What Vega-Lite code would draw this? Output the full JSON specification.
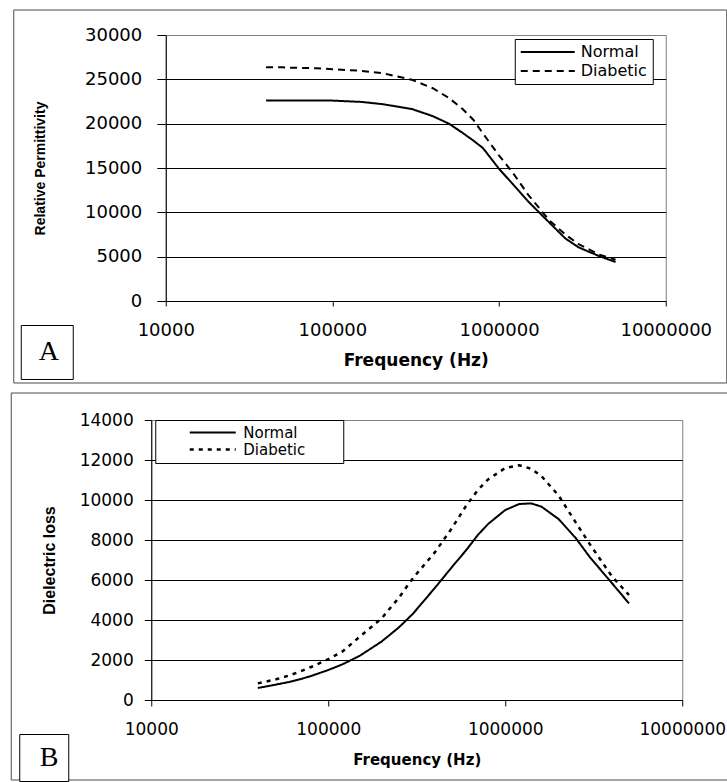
{
  "$schema": "https://vega.github.io/schema/vega-lite/v6.json",
  "padding": {"left": 10, "top": 9, "right": 0, "bottom": 0},
  "background": "white",
  "spacing": 7,
  "center": true,
  "resolve": {
    "scale": {"color": "independent", "opacity": "independent", "strokeDash": "independent", "strokeWidth": "independent"},
    "legend": {"color": "independent", "opacity": "independent", "strokeDash": "independent", "strokeWidth": "independent"}
  },
  "config": {
    "view": {"stroke": "#808080", "strokeWidth": 1},
    "axis": {"labelFont": "DejaVu Sans", "labelColor": "black", "tickColor": "black", "domainColor": "black", "titleColor": "black", "titleFontWeight": "bold", "labelFlush": false, "labelOverlap": false},
    "legend": {"labelColor": "black"}
  },
  "datasets": {
    "a": [
      {"panel": "A", "series": "Normal", "f": 40000, "v": 22600},
      {"panel": "A", "series": "Normal", "f": 50000, "v": 22600},
      {"panel": "A", "series": "Normal", "f": 60000, "v": 22600},
      {"panel": "A", "series": "Normal", "f": 80000, "v": 22600},
      {"panel": "A", "series": "Normal", "f": 100000, "v": 22600},
      {"panel": "A", "series": "Normal", "f": 150000, "v": 22450},
      {"panel": "A", "series": "Normal", "f": 200000, "v": 22200},
      {"panel": "A", "series": "Normal", "f": 300000, "v": 21650},
      {"panel": "A", "series": "Normal", "f": 400000, "v": 20850},
      {"panel": "A", "series": "Normal", "f": 500000, "v": 20000},
      {"panel": "A", "series": "Normal", "f": 600000, "v": 19000},
      {"panel": "A", "series": "Normal", "f": 700000, "v": 18100},
      {"panel": "A", "series": "Normal", "f": 800000, "v": 17250},
      {"panel": "A", "series": "Normal", "f": 1000000, "v": 14900},
      {"panel": "A", "series": "Normal", "f": 1200000, "v": 13250},
      {"panel": "A", "series": "Normal", "f": 1500000, "v": 11200},
      {"panel": "A", "series": "Normal", "f": 2000000, "v": 8850},
      {"panel": "A", "series": "Normal", "f": 2500000, "v": 7050},
      {"panel": "A", "series": "Normal", "f": 3000000, "v": 6050},
      {"panel": "A", "series": "Normal", "f": 4000000, "v": 5050},
      {"panel": "A", "series": "Normal", "f": 5000000, "v": 4400},
      {"panel": "A", "series": "Diabetic", "f": 40000, "v": 26350},
      {"panel": "A", "series": "Diabetic", "f": 50000, "v": 26350},
      {"panel": "A", "series": "Diabetic", "f": 60000, "v": 26300},
      {"panel": "A", "series": "Diabetic", "f": 80000, "v": 26250},
      {"panel": "A", "series": "Diabetic", "f": 100000, "v": 26150},
      {"panel": "A", "series": "Diabetic", "f": 150000, "v": 25950},
      {"panel": "A", "series": "Diabetic", "f": 200000, "v": 25700},
      {"panel": "A", "series": "Diabetic", "f": 300000, "v": 24950},
      {"panel": "A", "series": "Diabetic", "f": 400000, "v": 24000},
      {"panel": "A", "series": "Diabetic", "f": 500000, "v": 22900},
      {"panel": "A", "series": "Diabetic", "f": 600000, "v": 21700},
      {"panel": "A", "series": "Diabetic", "f": 700000, "v": 20450},
      {"panel": "A", "series": "Diabetic", "f": 800000, "v": 18900},
      {"panel": "A", "series": "Diabetic", "f": 1000000, "v": 16400},
      {"panel": "A", "series": "Diabetic", "f": 1200000, "v": 14550},
      {"panel": "A", "series": "Diabetic", "f": 1500000, "v": 11950},
      {"panel": "A", "series": "Diabetic", "f": 2000000, "v": 9100},
      {"panel": "A", "series": "Diabetic", "f": 2500000, "v": 7500},
      {"panel": "A", "series": "Diabetic", "f": 3000000, "v": 6400},
      {"panel": "A", "series": "Diabetic", "f": 4000000, "v": 5230},
      {"panel": "A", "series": "Diabetic", "f": 5000000, "v": 4650}
    ],
    "b": [
      {"panel": "B", "series": "Normal", "f": 40000, "v": 600},
      {"panel": "B", "series": "Normal", "f": 50000, "v": 760},
      {"panel": "B", "series": "Normal", "f": 60000, "v": 900},
      {"panel": "B", "series": "Normal", "f": 70000, "v": 1050},
      {"panel": "B", "series": "Normal", "f": 80000, "v": 1200},
      {"panel": "B", "series": "Normal", "f": 100000, "v": 1500},
      {"panel": "B", "series": "Normal", "f": 120000, "v": 1780},
      {"panel": "B", "series": "Normal", "f": 150000, "v": 2200},
      {"panel": "B", "series": "Normal", "f": 200000, "v": 2920},
      {"panel": "B", "series": "Normal", "f": 250000, "v": 3620},
      {"panel": "B", "series": "Normal", "f": 300000, "v": 4300},
      {"panel": "B", "series": "Normal", "f": 400000, "v": 5600},
      {"panel": "B", "series": "Normal", "f": 500000, "v": 6650},
      {"panel": "B", "series": "Normal", "f": 600000, "v": 7480},
      {"panel": "B", "series": "Normal", "f": 700000, "v": 8250},
      {"panel": "B", "series": "Normal", "f": 800000, "v": 8800},
      {"panel": "B", "series": "Normal", "f": 1000000, "v": 9500},
      {"panel": "B", "series": "Normal", "f": 1200000, "v": 9800},
      {"panel": "B", "series": "Normal", "f": 1400000, "v": 9830},
      {"panel": "B", "series": "Normal", "f": 1600000, "v": 9670},
      {"panel": "B", "series": "Normal", "f": 2000000, "v": 9050},
      {"panel": "B", "series": "Normal", "f": 2500000, "v": 8100},
      {"panel": "B", "series": "Normal", "f": 3000000, "v": 7150},
      {"panel": "B", "series": "Normal", "f": 4000000, "v": 5850},
      {"panel": "B", "series": "Normal", "f": 5000000, "v": 4830},
      {"panel": "B", "series": "Diabetic", "f": 40000, "v": 830},
      {"panel": "B", "series": "Diabetic", "f": 50000, "v": 1020},
      {"panel": "B", "series": "Diabetic", "f": 60000, "v": 1220},
      {"panel": "B", "series": "Diabetic", "f": 70000, "v": 1440},
      {"panel": "B", "series": "Diabetic", "f": 80000, "v": 1650},
      {"panel": "B", "series": "Diabetic", "f": 100000, "v": 2040},
      {"panel": "B", "series": "Diabetic", "f": 120000, "v": 2420},
      {"panel": "B", "series": "Diabetic", "f": 150000, "v": 3150},
      {"panel": "B", "series": "Diabetic", "f": 200000, "v": 4080},
      {"panel": "B", "series": "Diabetic", "f": 250000, "v": 5100},
      {"panel": "B", "series": "Diabetic", "f": 300000, "v": 6080},
      {"panel": "B", "series": "Diabetic", "f": 400000, "v": 7380},
      {"panel": "B", "series": "Diabetic", "f": 500000, "v": 8600},
      {"panel": "B", "series": "Diabetic", "f": 600000, "v": 9700},
      {"panel": "B", "series": "Diabetic", "f": 700000, "v": 10500},
      {"panel": "B", "series": "Diabetic", "f": 800000, "v": 11030},
      {"panel": "B", "series": "Diabetic", "f": 1000000, "v": 11600},
      {"panel": "B", "series": "Diabetic", "f": 1200000, "v": 11740},
      {"panel": "B", "series": "Diabetic", "f": 1400000, "v": 11560},
      {"panel": "B", "series": "Diabetic", "f": 1600000, "v": 11200},
      {"panel": "B", "series": "Diabetic", "f": 2000000, "v": 10230},
      {"panel": "B", "series": "Diabetic", "f": 2500000, "v": 8880},
      {"panel": "B", "series": "Diabetic", "f": 3000000, "v": 7800},
      {"panel": "B", "series": "Diabetic", "f": 4000000, "v": 6190},
      {"panel": "B", "series": "Diabetic", "f": 5000000, "v": 5250}
    ]
  },
  "vconcat": [
    {
      "width": 500,
      "height": 266,
      "data": {"name": "a"},
      "layer": [
        {
          "mark": {"type": "line", "color": "black", "strokeWidth": 2},
          "encoding": {
            "x": {
              "field": "f", "type": "quantitative",
              "scale": {"type": "log", "domain": [10000, 10000000], "nice": false},
              "axis": {"title": "Frequency (Hz)", "values": [10000, 100000, 1000000, 10000000], "format": "d", "labelFontSize": 18, "tickSize": 5, "labelPadding": 15, "titleFont": "DejaVu Sans", "titleFontSize": 17, "titlePadding": 13, "grid": false}
            },
            "y": {
              "field": "v", "type": "quantitative",
              "scale": {"domain": [0, 30000], "nice": false},
              "axis": {"title": "Relative Permittivity", "values": [0, 5000, 10000, 15000, 20000, 25000, 30000], "format": "d", "labelFontSize": 18, "tickSize": 9, "labelPadding": 15, "titleFont": "Liberation Sans", "titleFontSize": 14, "titlePadding": 37, "grid": true, "gridColor": {"condition": {"test": "datum.value == 30000", "value": "#808080"}, "value": "black"}}
            },
            "strokeDash": {
              "field": "series", "type": "nominal",
              "scale": {"domain": ["Normal", "Diabetic"], "range": [[1, 0], [7, 5]]},
              "legend": {"title": null, "orient": "none", "legendX": 349, "legendY": 4, "strokeColor": "black", "fillColor": "white", "padding": 5, "symbolType": "M-4.154,0H4.154", "symbolSize": 169, "symbolStrokeWidth": 2, "symbolStrokeColor": "black", "symbolOffset": 20, "labelOffset": 25, "labelFont": "DejaVu Sans", "labelFontSize": 16, "rowPadding": 3}
            }
          }
        },
        {
          "mark": {"type": "point", "filled": true, "size": 1},
          "encoding": {
            "x": {"field": "f", "type": "quantitative"},
            "y": {"field": "v", "type": "quantitative"},
            "opacity": {
              "field": "panel", "type": "ordinal",
              "scale": {"range": [0]},
              "legend": {"title": null, "orient": "none", "legendX": -145, "legendY": 290, "strokeColor": "black", "fillColor": "white", "padding": 13, "symbolSize": 0, "symbolOpacity": 0, "symbolStrokeWidth": 0, "labelFont": "Liberation Serif", "labelFontSize": 28, "labelOffset": -23}
            },
            "color": {
              "field": "v", "type": "quantitative",
              "scale": {"range": ["transparent", "transparent"]},
              "legend": {"title": null, "orient": "none", "legendX": -152, "legendY": -25, "direction": "vertical", "gradientLength": 373, "gradientThickness": 713, "gradientStrokeColor": "black", "gradientStrokeWidth": 1, "labelExpr": "''", "labelOffset": -30, "labelFontSize": 1, "padding": 0}
            }
          }
        }
      ]
    },
    {
      "width": 531,
      "height": 280,
      "data": {"name": "b"},
      "layer": [
        {
          "mark": {"type": "line", "color": "black"},
          "encoding": {
            "x": {
              "field": "f", "type": "quantitative",
              "scale": {"type": "log", "domain": [10000, 10000000], "nice": false},
              "axis": {"title": "Frequency (Hz)", "values": [10000, 100000, 1000000, 10000000], "format": "d", "labelFontSize": 17, "tickSize": 6, "labelPadding": 15, "titleFont": "DejaVu Sans", "titleFontSize": 15, "titlePadding": 15, "grid": false}
            },
            "y": {
              "field": "v", "type": "quantitative",
              "scale": {"domain": [0, 14000], "nice": false},
              "axis": {"title": "Dielectric loss", "values": [0, 2000, 4000, 6000, 8000, 10000, 12000, 14000], "tickCount": 8, "format": "d", "labelFontSize": 17, "tickSize": 7, "labelPadding": 11, "labelOverlap": false, "titleFont": "Liberation Sans", "titleFontSize": 16, "titlePadding": 22, "grid": true, "gridColor": {"condition": {"test": "datum.value == 14000", "value": "#808080"}, "value": "black"}}
            },
            "strokeDash": {
              "field": "series", "type": "nominal",
              "scale": {"domain": ["Normal", "Diabetic"], "range": [[1, 0], [4, 5]]},
              "legend": {"title": null, "orient": "none", "legendX": 4, "legendY": 0, "strokeColor": "black", "fillColor": "white", "padding": 5, "symbolType": "M-4.182,0H4.182", "symbolSize": 121, "symbolStrokeWidth": 2, "symbolStrokeColor": "black", "symbolOffset": 45, "labelOffset": 23, "labelFont": "DejaVu Sans", "labelFontSize": 15, "rowPadding": 1, "labelExpr": "datum.label + '\u2800\u2800\u2800'"}
            },
            "strokeWidth": {
              "field": "series", "type": "nominal",
              "scale": {"domain": ["Normal", "Diabetic"], "range": [2, 2.5]},
              "legend": null
            }
          }
        },
        {
          "mark": {"type": "point", "filled": true, "size": 1},
          "encoding": {
            "x": {"field": "f", "type": "quantitative"},
            "y": {"field": "v", "type": "quantitative"},
            "opacity": {
              "field": "panel", "type": "ordinal",
              "scale": {"range": [0]},
              "legend": {"title": null, "orient": "none", "legendX": -132, "legendY": 314, "strokeColor": "black", "fillColor": "white", "padding": 9.5, "symbolSize": 0, "symbolOpacity": 0, "symbolStrokeWidth": 0, "labelFont": "Liberation Serif", "labelFontSize": 28, "labelOffset": -17}
            },
            "color": {
              "field": "v", "type": "quantitative",
              "scale": {"range": ["transparent", "transparent"]},
              "legend": {"title": null, "orient": "none", "legendX": -140, "legendY": -27, "direction": "vertical", "gradientLength": 387, "gradientThickness": 730, "gradientStrokeColor": "black", "gradientStrokeWidth": 1, "labelExpr": "''", "labelOffset": -30, "labelFontSize": 1, "padding": 0}
            }
          }
        }
      ]
    }
  ]
}
